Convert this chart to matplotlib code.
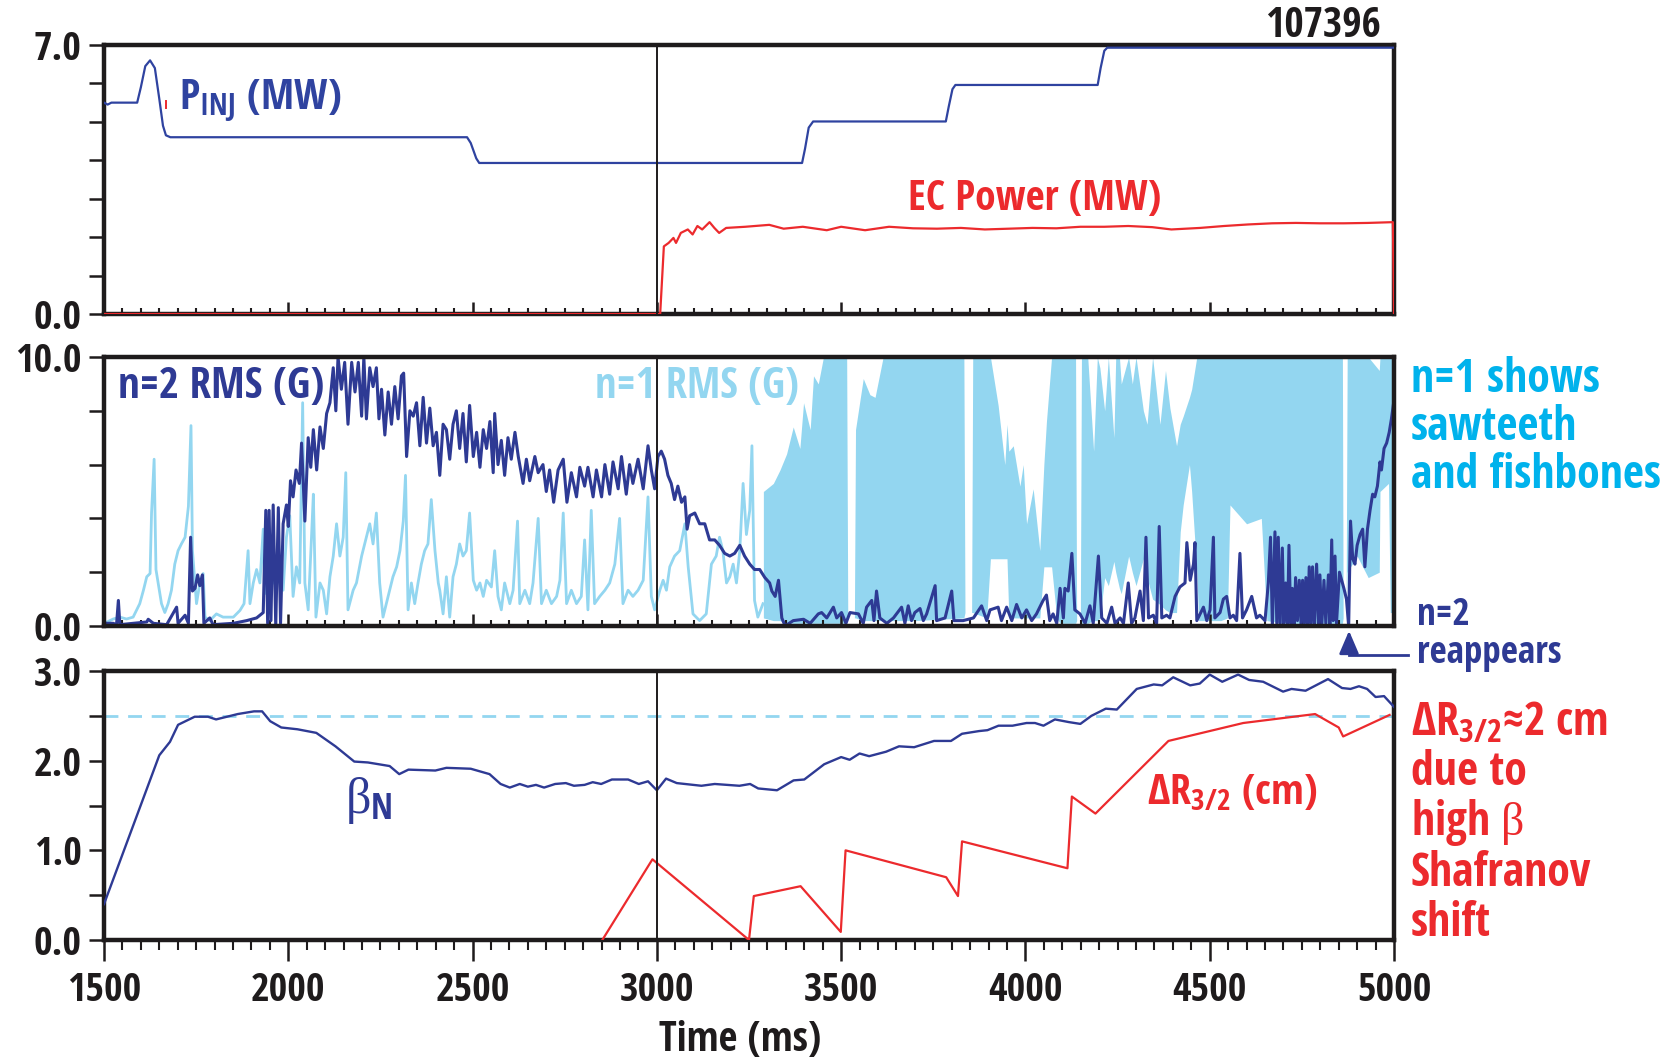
import numpy as np
import matplotlib
matplotlib.use("Agg")
import matplotlib.pyplot as plt
from matplotlib import font_manager
from matplotlib.patches import FancyArrowPatch
from matplotlib.lines import Line2D

# ---- values (shot 107396) ----
# top panel: injected power and EC power (MW)
t_pinj = [1500, 1510, 1520, 1590, 1600, 1612, 1625, 1638, 1650, 1660, 1668, 1680,
          2485, 2495, 2510, 2518, 3394, 3402, 3412, 3424, 3784, 3792, 3802, 3810,
          4196, 4204, 4214, 4222, 5000]
pinj = [5.5, 5.45, 5.5, 5.5, 5.9, 6.45, 6.6, 6.4, 5.6, 4.9, 4.65, 4.6,
        4.6, 4.45, 4.05, 3.93, 3.93, 4.3, 4.85, 5.01, 5.01, 5.4, 5.85, 5.96,
        5.96, 6.4, 6.85, 6.93, 6.93]

t_ec = [1500, 3009, 3019, 3032, 3045, 3052, 3065, 3084, 3097, 3110, 3123, 3143,
        3156, 3169, 3188, 3240, 3305, 3344, 3396, 3461, 3500, 3565, 3630, 3695,
        3760, 3825, 3890, 3955, 4019, 4084, 4149, 4214, 4279, 4344, 4396, 4474,
        4539, 4604, 4669, 4734, 4799, 4864, 4929, 4997, 5000]
ec = [0.0, 0.0, 1.76, 1.85, 1.98, 1.85, 2.11, 2.20, 2.07, 2.29, 2.20, 2.39,
      2.24, 2.11, 2.24, 2.27, 2.32, 2.22, 2.27, 2.18, 2.27, 2.18, 2.27, 2.23,
      2.22, 2.24, 2.20, 2.22, 2.24, 2.23, 2.27, 2.27, 2.29, 2.26, 2.20, 2.24,
      2.29, 2.33, 2.36, 2.37, 2.36, 2.36, 2.37, 2.39, 0.0]
t_ec_blip = [1668, 1668]
ec_blip = [5.35, 5.55]

# middle panel: n=2 RMS (G)
t_n2 = [1500, 1525, 1534, 1539, 1543, 1579, 1616, 1620, 1634, 1670, 1697, 1701,
        1720, 1729, 1735, 1740, 1747, 1754, 1760, 1767, 1771, 1787, 1796, 1851,
        1887, 1914, 1932, 1939, 1944, 1948, 1953, 1959, 1966, 1973, 1979, 1986,
        1995, 2000, 2006, 2013, 2021, 2030, 2036, 2045, 2054, 2061, 2068, 2077,
        2086, 2095, 2104, 2113, 2122, 2129, 2135, 2144, 2153, 2162, 2172, 2181,
        2190, 2199, 2205, 2212, 2221, 2230, 2239, 2246, 2253, 2262, 2271, 2280,
        2289, 2298, 2307, 2313, 2321, 2330, 2339, 2348, 2357, 2366, 2375, 2384,
        2393, 2402, 2411, 2420, 2429, 2438, 2447, 2456, 2465, 2474, 2483, 2492,
        2502, 2511, 2520, 2529, 2538, 2547, 2556, 2560, 2569, 2578, 2587, 2596,
        2605, 2615, 2624, 2637, 2646, 2655, 2669, 2678, 2691, 2700, 2709, 2720,
        2732, 2746, 2756, 2768, 2782, 2791, 2804, 2813, 2827, 2836, 2850, 2859,
        2872, 2881, 2895, 2904, 2917, 2926, 2935, 2949, 2963, 2976, 2985, 2994,
        3003, 3012, 3021, 3030, 3039, 3048, 3057, 3067, 3076, 3082, 3089, 3103,
        3116, 3130, 3143, 3157, 3170, 3184, 3198, 3211, 3225, 3238, 3252, 3265,
        3279, 3293, 3306, 3312, 3321, 3330, 3339, 3348, 3370, 3398, 3416, 3438,
        3447, 3461, 3479, 3488, 3501, 3513, 3524, 3547, 3560, 3569, 3583, 3589,
        3596, 3605, 3624, 3642, 3664, 3673, 3682, 3691, 3700, 3714, 3723, 3732,
        3755, 3759, 3782, 3800, 3806, 3831, 3859, 3881, 3895, 3904, 3926, 3935,
        3949, 3963, 3976, 3990, 4003, 4017, 4030, 4048, 4057, 4066, 4075, 4085,
        4094, 4103, 4107, 4116, 4126, 4134, 4148, 4162, 4175, 4184, 4198, 4207,
        4221, 4234, 4243, 4257, 4266, 4279, 4288, 4297, 4311, 4320, 4327, 4334,
        4347, 4356, 4363, 4370, 4383, 4392, 4406, 4419, 4433, 4438, 4447, 4456,
        4460, 4465, 4483, 4492, 4501, 4510, 4514, 4528, 4537, 4546, 4555, 4564,
        4573, 4582, 4589, 4600, 4614, 4627, 4636, 4650, 4659, 4665, 4670, 4677,
        4682, 4686, 4691, 4697, 4701, 4706, 4711, 4715, 4720, 4724, 4729, 4733,
        4738, 4743, 4748, 4752, 4757, 4761, 4766, 4770, 4775, 4779, 4784, 4790,
        4795, 4799, 4804, 4810, 4815, 4822, 4826, 4831, 4835, 4840, 4844, 4852,
        4858, 4864, 4871, 4877, 4882, 4888, 4894, 4900, 4908, 4915, 4921, 4928,
        4935, 4942, 4948, 4955, 4962, 4966, 4973, 4980, 4987, 4993, 5000]
n2 = [0.1, 0.1, 0.05, 0.95, 0.05, 0.1, 0.15, 0.25, 0.1, 0.05, 0.7, 0.1,
      0.4, 0.1, 3.3, 1.3, 1.4, 1.9, 1.5, 1.9, 0.1, 0.3, 0.05, 0.1,
      0.2, 0.3, 0.5, 4.3, 0.1, 4.3, 0.2, 4.5, 0.0, 4.4, 0.1, 3.8,
      4.5, 3.7, 5.4, 4.8, 5.8, 5.3, 6.8, 3.9, 7.0, 5.9, 7.3, 5.8,
      7.4, 6.6, 7.9, 8.3, 9.6, 8.0, 10.0, 8.8, 9.8, 7.5, 9.8, 8.7,
      9.8, 7.8, 10.0, 7.7, 9.6, 8.9, 9.6, 7.7, 8.8, 7.1, 8.7, 7.5,
      8.9, 7.7, 9.3, 9.4, 6.3, 8.0, 7.8, 8.3, 6.7, 8.5, 6.8, 8.1,
      6.7, 7.2, 5.6, 7.5, 7.3, 6.2, 7.5, 8.0, 6.6, 7.9, 6.1, 8.2,
      6.3, 7.2, 5.9, 7.3, 6.6, 7.6, 5.7, 7.9, 6.0, 6.9, 5.6, 7.0,
      6.2, 7.2, 6.3, 5.3, 6.2, 5.4, 6.3, 5.7, 6.0, 5.0, 5.8, 4.6,
      5.8, 6.2, 4.6, 5.7, 4.8, 5.9, 5.2, 5.9, 4.8, 5.8, 4.8, 6.0,
      4.9, 6.1, 5.1, 6.3, 4.9, 6.0, 5.3, 6.2, 5.1, 6.7, 5.8, 5.1,
      6.3, 6.5, 6.2, 5.6, 5.3, 4.7, 5.2, 4.6, 4.8, 3.6, 4.1, 4.2,
      3.8, 3.8, 3.2, 3.2, 3.0, 2.7, 2.6, 2.7, 3.0, 2.6, 2.3, 2.1,
      2.1, 1.8, 1.6, 1.3, 1.1, 1.7, 0.3, 0.0, 0.2, 0.25, 0.1, 0.45,
      0.5, 0.3, 0.7, 0.3, 0.5, 0.1, 0.5, 0.45, 0.1, 0.7, 0.95, 0.2,
      1.3, 0.3, 0.1, 0.3, 0.7, 0.1, 0.75, 0.2, 0.5, 0.65, 0.2, 0.45,
      1.5, 0.2, 0.3, 1.3, 0.2, 0.2, 0.3, 0.75, 0.2, 0.6, 0.7, 0.2,
      0.7, 0.2, 0.8, 0.3, 0.6, 0.2, 0.45, 0.95, 1.15, 0.2, 0.45, 0.1,
      1.4, 0.3, 1.4, 1.3, 2.7, 0.6, 0.45, 0.1, 0.75, 0.1, 2.6, 0.3,
      0.1, 0.7, 0.1, 0.3, 0.1, 1.6, 0.1, 0.3, 1.3, 0.2, 3.3, 0.3,
      0.4, 0.1, 3.7, 0.3, 0.4, 0.3, 1.1, 1.45, 1.6, 3.1, 1.7, 2.3,
      3.1, 0.2, 0.7, 0.2, 0.6, 3.3, 0.3, 0.5, 1.0, 1.1, 0.3, 0.4,
      0.2, 2.7, 0.3, 0.6, 1.1, 0.3, 0.4, 0.2, 1.6, 3.3, 0.0, 3.5,
      0.1, 3.3, 0.0, 2.9, 0.1, 1.6, 0.0, 3.0, 0.1, 1.4, 0.0, 1.8,
      0.2, 1.7, 0.0, 1.7, 0.1, 1.8, 0.0, 2.2, 0.1, 2.2, 0.0, 2.3,
      0.1, 1.9, 0.0, 1.7, 0.1, 1.9, 0.0, 3.2, 0.2, 2.6, 0.1, 2.0,
      1.7, 1.4, 1.0, 0.0, 3.9, 2.5, 2.3, 3.0, 3.4, 3.6, 2.2, 3.6,
      4.3, 4.9, 4.8, 5.2, 6.1, 5.8, 6.6, 6.8, 7.2, 7.7, 8.4]

# middle panel: n=1 RMS (G), single trace before the sawtooth phase
t_n1 = [1507, 1525, 1543, 1561, 1579, 1597, 1607, 1616, 1625, 1629, 1636, 1641,
        1647, 1656, 1665, 1674, 1683, 1692, 1701, 1710, 1720, 1729, 1736, 1740,
        1751, 1760, 1769, 1774, 1787, 1805, 1823, 1851, 1869, 1880, 1891, 1896,
        1905, 1914, 1923, 1932, 1936, 1950, 1959, 1968, 1977, 1986, 1995, 2004,
        2013, 2022, 2031, 2039, 2045, 2054, 2063, 2068, 2075, 2086, 2095, 2104,
        2113, 2122, 2131, 2140, 2149, 2156, 2162, 2176, 2185, 2199, 2212, 2221,
        2230, 2239, 2248, 2257, 2266, 2275, 2284, 2294, 2303, 2312, 2318, 2325,
        2334, 2343, 2352, 2361, 2370, 2379, 2388, 2398, 2407, 2411, 2420, 2429,
        2438, 2447, 2456, 2465, 2474, 2483, 2492, 2502, 2511, 2520, 2529, 2538,
        2551, 2560, 2569, 2578, 2587, 2601, 2610, 2622, 2628, 2642, 2655, 2664,
        2678, 2687, 2700, 2714, 2728, 2737, 2746, 2755, 2768, 2782, 2795, 2804,
        2813, 2822, 2831, 2845, 2859, 2872, 2886, 2899, 2908, 2922, 2935, 2949,
        2963, 2976, 2985, 2994, 3008, 3017, 3026, 3035, 3048, 3062, 3076, 3085,
        3098, 3116, 3134, 3148, 3161, 3170, 3179, 3189, 3198, 3207, 3216, 3225,
        3234, 3243, 3252, 3258, 3265, 3274, 3288]
n1 = [0.14, 0.26, 0.33, 0.26, 0.33, 0.83, 1.33, 1.83, 1.95, 4.2, 6.2, 2.1,
      1.6, 0.83, 0.5, 0.83, 1.33, 2.3, 2.8, 3.05, 3.3, 4.45, 7.45, 2.8,
      0.83, 1.6, 1.95, 0.33, 0.2, 0.45, 0.33, 0.33, 0.58, 0.83, 2.8, 0.83,
      1.6, 2.1, 1.6, 3.6, 1.2, 2.7, 1.6, 1.6, 2.3, 1.33, 3.3, 4.1,
      1.1, 2.2, 1.6, 8.3, 1.6, 0.6, 3.3, 4.9, 0.33, 1.6, 1.33, 0.45,
      1.83, 2.6, 3.8, 2.6, 3.3, 5.7, 0.6, 1.33, 1.6, 2.6, 3.3, 3.8,
      3.05, 4.2, 1.6, 0.33, 0.83, 1.33, 1.83, 2.2, 2.8, 3.9, 5.6, 0.6,
      1.6, 0.83, 1.6, 2.3, 2.8, 3.05, 4.7, 2.8, 1.6, 1.33, 0.45, 1.83,
      0.33, 1.83, 2.3, 3.05, 2.6, 2.8, 4.2, 1.7, 1.33, 1.6, 1.1, 1.7,
      1.45, 2.8, 1.1, 0.6, 1.6, 0.83, 1.33, 3.9, 0.83, 1.33, 0.83, 1.6,
      4.0, 0.83, 1.33, 0.83, 1.1, 1.7, 4.2, 0.83, 1.33, 0.83, 1.1, 3.2,
      0.6, 4.3, 0.83, 1.1, 1.33, 1.6, 2.3, 4.0, 0.83, 1.33, 1.1, 1.33,
      1.7, 4.8, 1.1, 0.6, 1.33, 1.7, 1.33, 2.2, 2.6, 2.8, 3.8, 2.2,
      0.45, 0.2, 0.45, 2.3, 2.6, 3.3, 2.8, 1.6, 1.83, 2.3, 1.6, 2.8,
      5.3, 3.4, 4.3, 6.7, 0.95, 0.33, 0.83]

# middle panel: n=1 RMS during sawteeth/fishbones, band between low and high excursions
t_n1_band = [3289, 3316, 3334, 3352, 3370, 3388, 3398, 3416, 3425, 3438, 3452, 3515,
             3518, 3536, 3539, 3560, 3578, 3592, 3614, 3700, 3833, 3836, 3854, 3857,
             3895, 3905, 3926, 3944, 3950, 3955, 3967, 3985, 3994, 4003, 4021, 4039,
             4050, 4057, 4071, 4085, 4094, 4136, 4139, 4149, 4152, 4169, 4185, 4195,
             4202, 4215, 4225, 4240, 4245, 4255, 4260, 4280, 4290, 4300, 4320, 4330,
             4345, 4365, 4380, 4392, 4410, 4420, 4428, 4445, 4451, 4465, 4470, 4530,
             4548, 4555, 4600, 4640, 4655, 4700, 4860, 4862, 4870, 4873, 4900, 4930,
             4960, 4962, 4985, 4990, 5000]
n1_lo = [0.3, 0.2, 0.2, 0.1, 0.1, 0.1, 0.1, 0.1, 0.1, 0.1, 0.1, 0.1,
         0.3, 0.3, 0.3, 0.2, 0.2, 0.2, 0.2, 0.2, 0.3, 0.5, 0.5, 0.5,
         0.3, 2.5, 2.5, 2.5, 2.5, 0.3, 0.3, 0.3, 0.3, 0.3, 0.3, 0.3,
         2.2, 2.2, 2.2, 0.3, 0.1, 0.1, 0.2, 0.2, 0.1, 0.1, 0.2, 0.2,
         0.3, 1.8, 1.5, 2.4, 2.0, 1.4, 1.2, 2.6, 2.0, 1.5, 2.5, 1.8,
         1.0, 0.8, 0.6, 0.5, 0.5, 3.5, 4.5, 6.0, 5.0, 2.0, 0.2, 0.2,
         0.3, 4.5, 3.8, 4.0, 0.2, 0.1, 0.1, 0.3, 0.3, 2.0, 2.6, 1.8,
         2.0, 5.0, 5.3, 0.5, 0.5]
n1_hi = [5.0, 5.3, 5.8, 6.4, 7.4, 6.6, 8.3, 7.3, 9.3, 9.0, 10.0, 10.0,
         0.3, 0.3, 7.3, 9.2, 8.6, 8.5, 10.0, 10.0, 10.0, 0.5, 0.5, 10.0,
         10.0, 10.0, 8.2, 6.0, 7.5, 6.5, 6.7, 5.2, 6.0, 3.8, 5.1, 2.8,
         6.0, 7.6, 10.0, 10.0, 10.0, 10.0, 0.2, 0.2, 10.0, 10.0, 6.5, 10.0,
         9.6, 8.0, 10.0, 7.0, 10.0, 10.0, 9.0, 10.0, 9.0, 10.0, 8.0, 7.5,
         10.0, 7.5, 9.5, 8.1, 6.7, 7.5, 7.8, 8.5, 8.8, 10.0, 10.0, 10.0,
         10.0, 10.0, 10.0, 10.0, 10.0, 10.0, 10.0, 0.3, 0.3, 10.0, 10.0, 10.0,
         9.5, 10.0, 10.0, 10.0, 10.0]

# bottom panel: beta_N and Delta R_3/2 (cm)
t_beta = [1500, 1650, 1679, 1701, 1746, 1782, 1804, 1863, 1907, 1929, 1951, 1981,
          2025, 2076, 2128, 2179, 2216, 2275, 2301, 2326, 2399, 2429, 2495, 2546,
          2576, 2601, 2628, 2650, 2672, 2694, 2724, 2753, 2775, 2804, 2826, 2849,
          2878, 2922, 2951, 2976, 3000, 3025, 3054, 3121, 3157, 3224, 3253, 3275,
          3326, 3371, 3400, 3454, 3500, 3523, 3550, 3576, 3622, 3657, 3698, 3752,
          3798, 3828, 3874, 3897, 3927, 3965, 4003, 4026, 4049, 4080, 4118, 4149,
          4179, 4218, 4248, 4302, 4348, 4371, 4401, 4447, 4473, 4500, 4534, 4577,
          4607, 4645, 4699, 4722, 4760, 4821, 4859, 4882, 4905, 4927, 4950, 4973,
          5000]
beta = [0.40, 2.06, 2.21, 2.40, 2.49, 2.49, 2.46, 2.52, 2.55, 2.55, 2.44, 2.37,
        2.35, 2.31, 2.16, 1.99, 1.98, 1.94, 1.85, 1.90, 1.89, 1.92, 1.91, 1.85,
        1.74, 1.70, 1.74, 1.71, 1.73, 1.70, 1.74, 1.75, 1.72, 1.73, 1.76, 1.74,
        1.79, 1.79, 1.74, 1.77, 1.67, 1.80, 1.75, 1.72, 1.74, 1.72, 1.74, 1.69,
        1.67, 1.78, 1.79, 1.96, 2.04, 2.01, 2.08, 2.05, 2.10, 2.16, 2.15, 2.22,
        2.22, 2.30, 2.33, 2.34, 2.39, 2.39, 2.42, 2.42, 2.39, 2.46, 2.43, 2.41,
        2.50, 2.58, 2.57, 2.80, 2.85, 2.84, 2.93, 2.84, 2.86, 2.96, 2.88, 2.96,
        2.90, 2.88, 2.77, 2.80, 2.78, 2.91, 2.81, 2.80, 2.83, 2.80, 2.71, 2.72,
        2.60]
beta_ref = 2.5

t_dr = [2852, 2988, 3250, 3263, 3390, 3499, 3512, 3785, 3817, 3828, 4114, 4126,
        4190, 4388, 4591, 4786, 4850, 4862, 4988]
dr = [0.0, 0.90, 0.0, 0.49, 0.60, 0.09, 1.0, 0.70, 0.49, 1.10, 0.80, 1.60,
      1.41, 2.22, 2.42, 2.52, 2.37, 2.27, 2.51]

t_ech_on = 3000
t_reappear = 4878
xticks = [1500, 2000, 2500, 3000, 3500, 4000, 4500, 5000]

# ---- style ----
navy = "#2E3A94"
pblue = "#2F43A0"
light = "#93D6F0"
red = "#EC2A2D"
cyan = "#00B2EC"
frame = "#1E1B1C"

# the original uses a condensed bold sans; pick the installed bold sans whose
# "1500" has the closest width/height ratio (about 2.45 in the original)
bases = ("Liberation Sans", "Roboto", "Noto Sans", "Open Sans", "Lato", "Inter", "DejaVu Sans")
skip = ("Mono", "CJK", "Serif", "Display", "Math", "Symbols", "Arabic", "Hebrew")


def weight_of(f):
    return f.weight if isinstance(f.weight, int) else font_manager.weight_dict.get(f.weight, 400)


def digit_shape(fname):
    ft = font_manager.get_font(fname)
    ft.set_size(100, 72)
    ft.set_text("1500", 0.0)
    w, h = ft.get_width_height()
    return w / h


best = None
for f in font_manager.fontManager.ttflist:
    if not f.name.startswith(bases) or any(k in f.name for k in skip):
        continue
    if not 600 <= weight_of(f) <= 800 or f.style != "normal":
        continue
    try:
        score = abs(digit_shape(f.fname) - 2.45)
    except Exception:
        continue
    if best is None or score < best[0]:
        best = (score, f)

if best is not None:
    sans, stretch, bold_w = best[1].name, best[1].stretch, weight_of(best[1])
else:
    sans, stretch, bold_w = "DejaVu Sans", "normal", 700
serif = "Liberation Serif"

plt.rcParams["font.family"] = [sans, "DejaVu Sans"]
plt.rcParams["font.stretch"] = stretch
plt.rcParams["font.weight"] = bold_w
plt.rcParams["mathtext.fontset"] = "custom"
plt.rcParams["mathtext.rm"] = f"{sans}:weight=normal:stretch={stretch}"
plt.rcParams["mathtext.bf"] = f"{sans}:weight={bold_w}:stretch={stretch}"
plt.rcParams["mathtext.it"] = f"{serif}:weight=normal"
plt.rcParams["axes.linewidth"] = 3.2
plt.rcParams["axes.edgecolor"] = frame

W, H = 1681, 1059


def fx(px):
    return px / W


def fy(py):
    return 1 - py / H


fig = plt.figure(figsize=(W / 100, H / 100), dpi=100)
left, width, height = fx(104), 1290 / W, 269 / H
ax1 = fig.add_axes([left, fy(314), width, height])
ax2 = fig.add_axes([left, fy(626), width, height])
ax3 = fig.add_axes([left, fy(940), width, height])
renderer = fig.canvas.get_renderer()


def fit(texts, target_px, max_size):
    # shrink a group of texts until its widest member is target_px wide
    widest = max(t.get_window_extent(renderer).width for t in texts)
    size = min(max_size, texts[0].get_fontsize() * target_px / widest)
    for t in texts:
        t.set_fontsize(size)
    return size


# tick label size so that "1500" is about 74 px wide, as in the original
probe = fig.text(0, 0, "1500", fontsize=30)
tick_size = fit([probe], 74, 31)
probe.remove()

for ax in (ax1, ax2, ax3):
    ax.set_xlim(1500, 5000)
    ax.set_xticks(xticks)
    ax.set_xticks(np.arange(1500, 5001, 50), minor=True)
    ax.tick_params(axis="y", which="both", direction="out", length=11, width=1.8,
                   pad=5, labelsize=tick_size, colors=frame)
    ax.axvline(t_ech_on, color=frame, lw=1.4, zorder=4)

for ax in (ax1, ax2):
    ax.tick_params(axis="x", which="major", direction="in", length=9, width=1.8,
                   labelbottom=False, colors=frame)
    ax.tick_params(axis="x", which="minor", direction="in", length=4.5, width=1.5,
                   colors=frame)

ax3.tick_params(axis="x", which="major", direction="out", length=15, width=1.8,
                pad=7, labelsize=tick_size, colors=frame)
ax3.tick_params(axis="x", which="minor", direction="out", length=7, width=1.5,
                colors=frame)

# top panel
ax1.plot(t_pinj, pinj, color=pblue, lw=1.6, zorder=3)
ax1.plot(t_ec, ec, color=red, lw=1.6, zorder=3)
ax1.plot(t_ec_blip, ec_blip, color=red, lw=1.4, zorder=3)
ax1.set_ylim(0, 7)
ax1.set_yticks(np.arange(0, 8, 1))
ax1.set_yticklabels(["0.0", "", "", "", "", "", "", "7.0"])

# middle panel
ax2.fill_between(t_n1_band, n1_lo, n1_hi, color=light, lw=0, zorder=1)
ax2.plot(t_n1, n1, color=light, lw=2.0, zorder=1)
ax2.plot(t_n2, n2, color=navy, lw=2.2, zorder=2)
ax2.set_ylim(0, 10)
ax2.set_yticks(np.arange(0, 11, 2))
ax2.set_yticklabels(["0.0", "", "", "", "", "10.0"])

# bottom panel
ax3.axhline(beta_ref, color=light, lw=2.0, ls=(0, (5, 3.5)), zorder=1)
ax3.plot(t_beta, beta, color=navy, lw=1.7, zorder=3)
ax3.plot(t_dr, dr, color=red, lw=1.6, zorder=3)
ax3.set_ylim(0, 3)
ax3.set_yticks([0, 1, 2, 3])
ax3.set_yticklabels(["0.0", "1.0", "2.0", "3.0"])
ax3.set_yticks([0.5, 1.5, 2.5], minor=True)
ax3.set_xticklabels([str(v) for v in xticks])

# ---- annotations ----
t_shot = fig.text(fx(1381), fy(37), "107396", ha="right", va="baseline", fontsize=30, color=frame)
fit([t_shot], 116, 31)
t_pinj_lab = fig.text(fx(179), fy(110), r"$\mathbf{P_{INJ}}$ (MW)", va="baseline", fontsize=30, color=pblue)
fit([t_pinj_lab], 162, 32)
t_ec_lab = fig.text(fx(908), fy(210), "EC Power (MW)", va="baseline", fontsize=30, color=red)
fit([t_ec_lab], 253, 31)
t_n2_lab = fig.text(fx(118), fy(398), "n=2 RMS (G)", va="baseline", fontsize=30, color=navy)
fit([t_n2_lab], 206, 31)
t_n1_lab = fig.text(fx(595), fy(398), "n=1 RMS (G)", va="baseline", fontsize=30, color=light)
fit([t_n1_lab], 204, 31)
fig.text(fx(345), fy(813), r"$β_{\mathbf{N}}$", va="baseline", fontsize=36, color=navy)
t_dr_lab = fig.text(fx(1147), fy(804), r"$\mathrm{ΔR_{3/2}}$ (cm)", va="baseline", fontsize=30,
                    fontweight="normal", color=red)
fit([t_dr_lab], 170, 31)
t_time = fig.text(fx(740), fy(1051), "Time (ms)", ha="center", va="baseline", fontsize=30, color=frame)
fit([t_time], 162, 31)

cyan_texts = [fig.text(fx(1411), fy(392 + 48 * i), line, va="baseline", fontsize=33, color=cyan)
              for i, line in enumerate(["n=1 shows", "sawteeth", "and fishbones"])]
fit(cyan_texts, 250, 33)

navy_texts = [fig.text(fx(1417), fy(625), "n=2", va="baseline", fontsize=27, color=navy),
              fig.text(fx(1417), fy(663), "reappears", va="baseline", fontsize=27, color=navy)]
fit(navy_texts, 145, 27)

red_lines = [r"$\mathbf{ΔR_{3/2}}$≈2 cm", "due to", r"high $β$", "Shafranov", "shift"]
red_texts = [fig.text(fx(1411), fy(735 + 50.2 * i), line, va="baseline", fontsize=33, color=red)
             for i, line in enumerate(red_lines)]
fit(red_texts, 204, 33)

# arrow marking where n=2 reappears
ax_x = ax2.transData.transform((t_reappear, 0))[0] / W
fig.add_artist(Line2D([ax_x, fx(1408)], [fy(655), fy(655)], transform=fig.transFigure,
                      color=navy, lw=2.0))
fig.add_artist(FancyArrowPatch((ax_x, fy(656)), (ax_x, fy(628)), transform=fig.transFigure,
                               arrowstyle="-|>,head_length=0.7,head_width=0.3",
                               mutation_scale=20, color=navy, lw=2.0))

fig.savefig("out.png", dpi=100)
